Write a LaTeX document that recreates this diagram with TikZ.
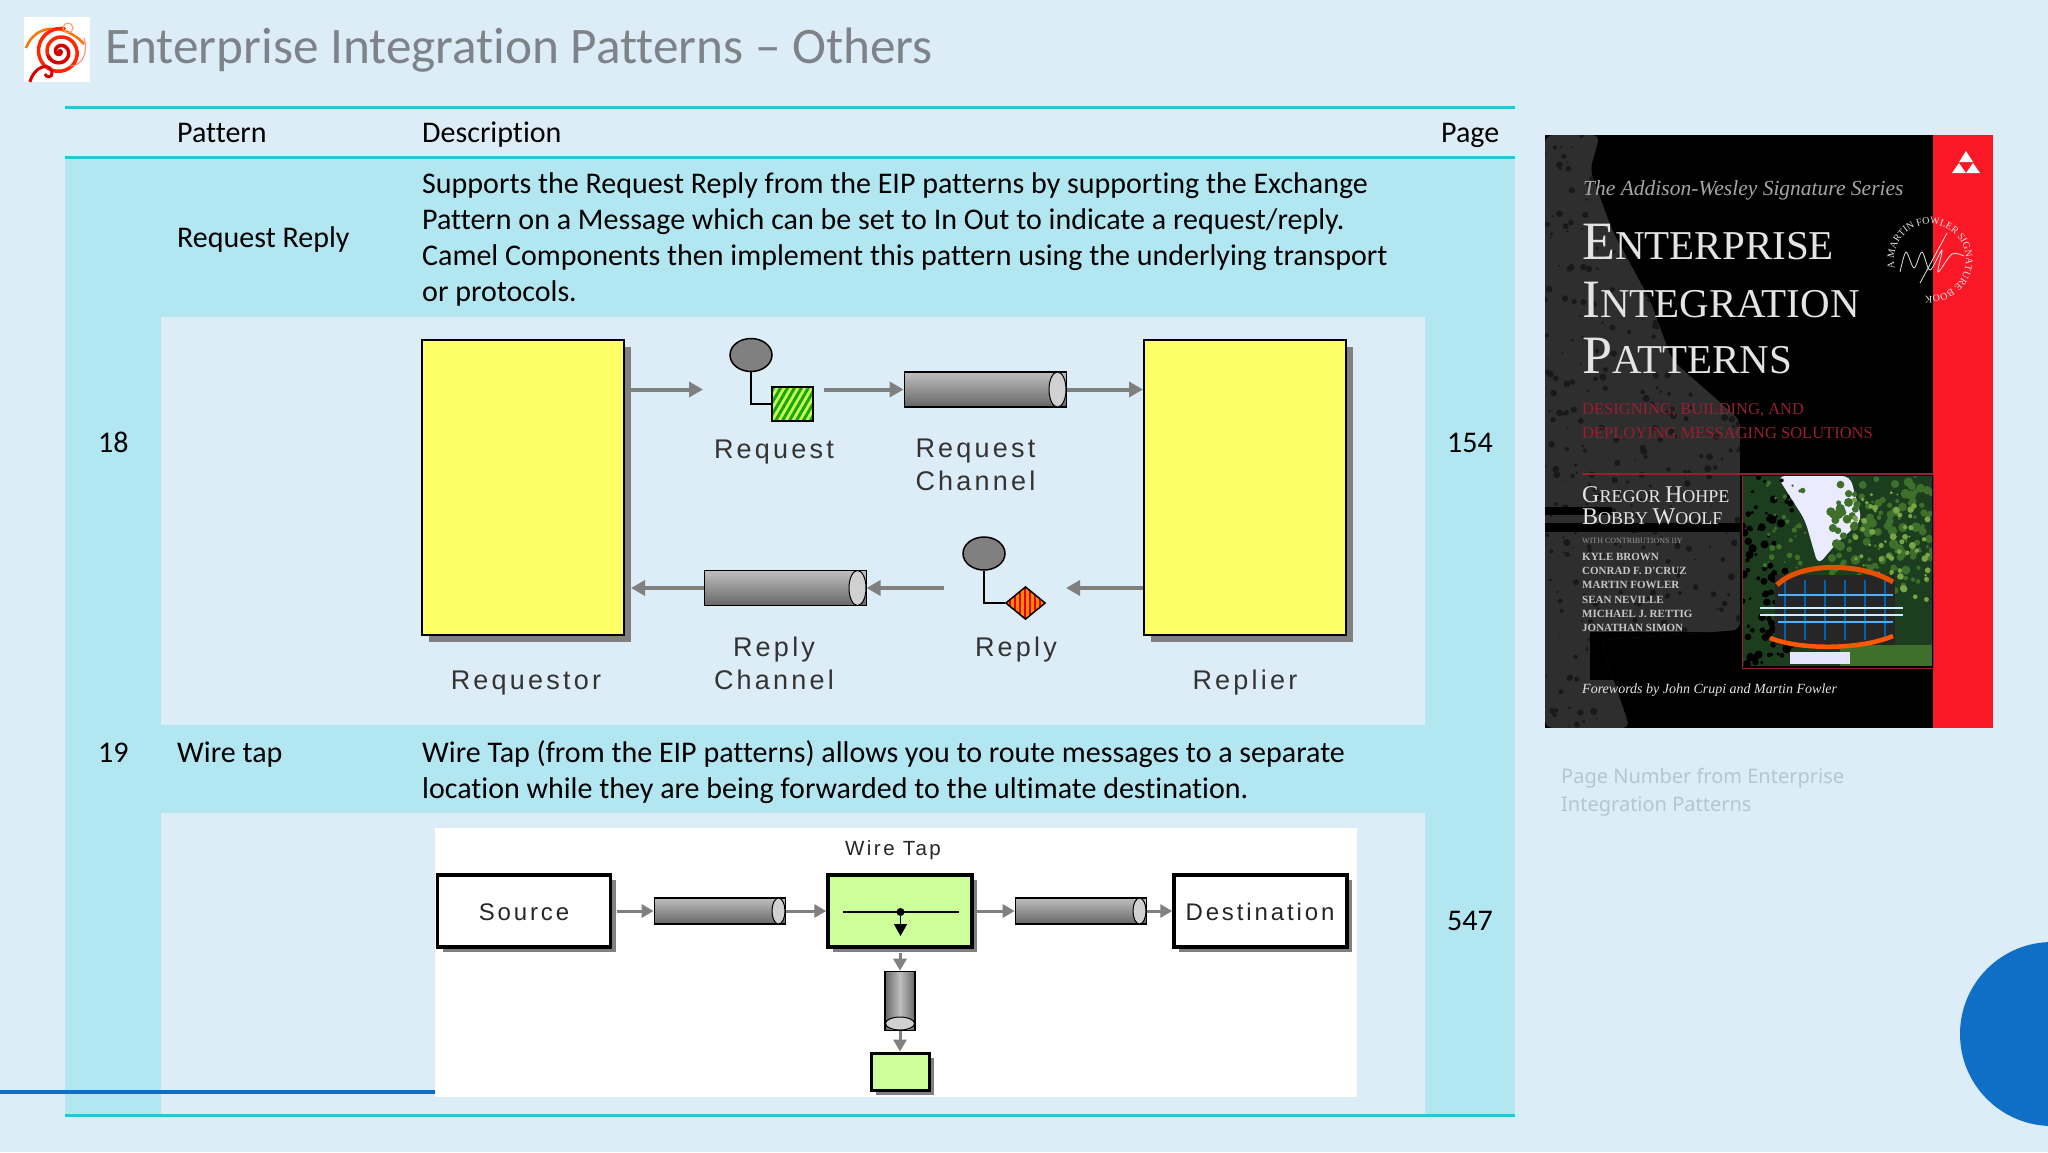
\documentclass[tikz,border=0pt]{standalone}
\usepackage{fontspec}
\setmainfont[Ligatures=NoCommon]{Carlito}
\newfontfamily\figfont[LetterSpace=12]{Liberation Sans}
\newfontfamily\coverfont{Liberation Serif}
\newfontfamily\notefont{Noto Sans}
\usetikzlibrary{shapes, arrows.meta, positioning, shadows, patterns.meta, decorations.text}

\definecolor{pagebg}{RGB}{220,237,247}
\definecolor{rowcyan}{RGB}{178,230,241}
\definecolor{ruleteal}{RGB}{38,200,216}
\definecolor{titlegrey}{RGB}{125,131,137}
\definecolor{notegrey}{RGB}{180,198,212}
\definecolor{boxyellow}{RGB}{255,255,102}
\definecolor{tapgreen}{RGB}{204,255,153}
\definecolor{deckblue}{RGB}{15,110,198}
\definecolor{coverred}{RGB}{250,24,38}
\definecolor{subred}{RGB}{150,32,50}
\definecolor{coverwhite}{RGB}{228,228,228}
\definecolor{covergrey}{RGB}{46,46,46}
\definecolor{leafdark}{RGB}{28,62,30}
\definecolor{leafmid}{RGB}{62,112,44}
\definecolor{leaflight}{RGB}{120,165,70}

\newcommand{\coverhead}[4]{{\fontsize{#1}{#1}\selectfont #3}{\fontsize{#2}{#2}\selectfont #4}}
\newcommand{\sealfont}{\fontsize{10}{10}\selectfont\coverfont\color{coverwhite}}

\tikzstyle{celltext} = [anchor=base west, inner sep=0pt, font=\fontsize{30}{36}\selectfont]
\tikzstyle{blocktext} = [anchor=north west, inner sep=0pt, align=left, font=\fontsize{30}{36}\selectfont]
\tikzstyle{figlabel} = [inner sep=0pt, align=center, text=black!80, font=\figfont\fontsize{27}{33}\selectfont]
\tikzstyle{taplabel} = [anchor=base, inner sep=0pt, text=black!85, font=\figfont\fontsize{24}{24}\selectfont]
\tikzstyle{endpoint} = [rectangle, draw=black, line width=2pt, fill=boxyellow, inner sep=0pt, minimum width=202pt, minimum height=295pt, drop shadow={shadow xshift=7pt, shadow yshift=-7pt, fill=black!50, opacity=1}]
\tikzstyle{tapbox} = [rectangle, draw=black, line width=3.5pt, inner sep=0pt, minimum height=72pt, drop shadow={shadow xshift=5pt, shadow yshift=-5pt, fill=black!50, opacity=1}]
\tikzstyle{msghead} = [ellipse, draw=black, line width=1.5pt, fill=black!50, inner sep=0pt, minimum width=42pt, minimum height=33pt]
\tikzstyle{pipe} = [cylinder, draw=black, line width=1.5pt, aspect=1, inner sep=0pt, top color=black!25, bottom color=black!60]
\tikzstyle{pipecap} = [ellipse, draw=black, line width=1pt, fill=black!18, inner sep=0pt]
\tikzstyle{flow} = [-{Triangle[length=14pt, width=15pt]}, draw=black!50, line width=4pt]
\tikzstyle{tapflow} = [-{Triangle[length=12pt, width=13pt]}, draw=black!50, line width=3pt]
\tikzstyle{covercaps} = [anchor=base west, inner sep=0pt, text=coverwhite, font=\coverfont]
\tikzstyle{coversub} = [anchor=base west, inner sep=0pt, text=subred, font=\coverfont\fontsize{16.5}{16.5}\selectfont]
\tikzstyle{coversmall} = [anchor=base west, inner sep=0pt, text=black!22, font=\coverfont\bfseries\fontsize{11}{11}\selectfont]

\begin{document}
\begin{tikzpicture}[x=1pt, y=-1pt]
  \clip (0,0) rectangle (2048,1152);
  \fill[pagebg] (0,0) rectangle (2048,1152);

  % logo
  \fill[white] (24,17) rectangle (90,82);
  \draw[orange!90!red, line width=2.5pt] (26,48) .. controls (36,22) and (66,24) .. (84,44);
  \draw[red!70!orange, line width=3.5pt, line cap=round] plot[smooth, domain=500:1000, samples=40] ({60+\x/42*cos(\x)}, {52+\x/42*sin(\x)});
  \draw[red!85!black, line width=3.5pt, line cap=round] plot[smooth, domain=60:520, samples=40] ({60+\x/42*cos(\x)}, {52+\x/42*sin(\x)});
  \fill[red!80!black] (60,52) circle (3pt);
  \draw[red!85!black, line width=3pt] (30,82) .. controls (34,66) and (50,62) .. (52,72) .. controls (53,78) and (46,78) .. (45,74);
  \draw[orange!70!red!60, line width=1pt] (68,28) circle (5pt);
  \draw[red!50, line width=1pt] (70,66) .. controls (84,66) and (88,50) .. (84,38);

  % title
  \node[anchor=base west, inner sep=0pt, text=titlegrey, font=\fontsize{51.2}{52}\selectfont] (title) at (105,63.5) {Enterprise Integration Patterns -- Others};

  % table cells
  \fill[rowcyan] (65,157) rectangle (1515,1115);
  \fill[pagebg] (161,317) rectangle (1425,725);
  \fill[pagebg] (161,813) rectangle (1425,1115);
  \draw[ruleteal, line width=3pt] (65,107) -- (1515,107);
  \draw[ruleteal, line width=3pt] (65,157) -- (1515,157);
  \draw[ruleteal, line width=3pt] (65,1115) -- (1515,1115);

  % table text
  \node[celltext] (hpattern) at (177,142) {Pattern};
  \node[celltext] (hdesc) at (422,142) {Description};
  \node[celltext] (hpage) at (1441,142) {Page};
  \node[celltext] (name18) at (177,247) {Request Reply};
  \node[blocktext] (desc18) at (422,172.5) {Supports the Request Reply from the EIP patterns by supporting the Exchange\\Pattern on a Message which can be set to In Out to indicate a request/reply.\\Camel Components then implement this pattern using the underlying transport\\or protocols.};
  \node[celltext] (num18) at (98,452) {18};
  \node[celltext] (page18) at (1447,452) {154};
  \node[celltext] (num19) at (98,762) {19};
  \node[celltext] (name19) at (177,762) {Wire tap};
  \node[blocktext] (desc19) at (422,740) {Wire Tap (from the EIP patterns) allows you to route messages to a separate\\location while they are being forwarded to the ultimate destination.};
  \node[celltext] (page19) at (1447,930) {547};

  % request reply figure
  \node[endpoint] (requestor) at (523,487) {};
  \node[endpoint] (replier) at (1245,487) {};
  \node[figlabel, anchor=base] (requestorlbl) at (526,689) {Requestor};
  \node[figlabel, anchor=base] (replierlbl) at (1245,689) {Replier};

  \node[msghead] (reqhead) at (751,355) {};
  \node[rectangle, draw=black, line width=1.5pt, inner sep=0pt, minimum width=41pt, minimum height=34pt, preaction={fill=green!30!yellow!70}, pattern={Lines[angle=60, distance=6pt, line width=3pt]}, pattern color=green!60!black!90] (reqbody) at (792.5,404) {};
  \draw[line width=1.5pt] (reqhead.south) |- (reqbody.west);
  \node[figlabel, anchor=base] (reqlbl) at (774,458) {Request};

  \node[pipe, minimum height=162pt, minimum width=35pt] (reqchan) at (985,389.5) {};
  \node[pipecap, minimum width=17pt, minimum height=35pt] (reqcap) at (1057.5,389.5) {};
  \node[figlabel, anchor=north] (reqchanlbl) at (975.5,439) {Request\\Channel};

  \node[msghead] (rephead) at (984,553.5) {};
  \node[diamond, draw=black, line width=1.5pt, inner sep=0pt, minimum width=40pt, minimum height=33pt, preaction={fill=orange!90!yellow}, pattern={Lines[angle=90, distance=5pt, line width=2pt]}, pattern color=red!90!black] (repbody) at (1025.5,603) {};
  \draw[line width=1.5pt] (rephead.south) |- (repbody.west);
  \node[figlabel, anchor=base] (replbl) at (1016,656) {Reply};

  \node[pipe, minimum height=162pt, minimum width=35pt] (repchan) at (785,588) {};
  \node[pipecap, minimum width=17pt, minimum height=35pt] (repcap) at (857.5,588) {};
  \node[figlabel, anchor=north] (repchanlbl) at (774,637) {Reply\\Channel};

  \coordinate (msgin) at (703,389.5);
  \coordinate (msgout) at (824,389.5);
  \coordinate (replyin) at (1066,588);
  \coordinate (replyout) at (944,588);
  \draw[flow, shorten <=6pt] (requestor.east |- msgin) -- (msgin);
  \draw[flow] (msgout) -- (reqchan.west);
  \draw[flow] (reqcap.east) -- (replier.west |- reqcap);
  \draw[flow] (replier.west |- replyin) -- (replyin);
  \draw[flow] (replyout) -- (repcap.east);
  \draw[flow, shorten >=6pt] (repchan.west) -- (requestor.east |- repchan);

  % wire tap figure
  \node[rectangle, fill=white, inner sep=0pt, minimum width=922pt, minimum height=269pt] (tapframe) at (896,962.5) {};
  \fill[deckblue] (0,1090) rectangle (435,1094);
  \node[tapbox, fill=white, minimum width=173pt] (source) at (524,911) {};
  \node[taplabel] (sourcelbl) at (524,920) {Source};
  \node[tapbox, fill=tapgreen, minimum width=144pt] (wiretap) at (900,911) {};
  \node[tapbox, fill=white, minimum width=173pt] (destination) at (1260.5,911) {};
  \node[taplabel] (destlbl) at (1260,920) {Destination};
  \node[inner sep=0pt, text=black!85, font=\figfont\fontsize{20.5}{21}\selectfont, anchor=base] (wiretaplbl) at (893,855) {Wire Tap};

  \coordinate (tapleft) at (843,912);
  \coordinate (tapright) at (959,912);
  \coordinate (tapend) at (900.5,936);
  \node[circle, fill=black, inner sep=0pt, minimum size=8pt] (tapdot) at (900.5,912) {};
  \draw[line width=1.5pt] (tapleft) -- (tapright);
  \draw[-{Triangle[length=12pt, width=13pt]}, line width=1.5pt] (tapdot) -- (tapend);

  \node[pipe, minimum height=131pt, minimum width=26pt] (pipea) at (719.5,911) {};
  \node[pipecap, minimum width=13pt, minimum height=26pt] (capa) at (778.5,911) {};
  \node[pipe, minimum height=131pt, minimum width=26pt] (pipeb) at (1080.5,911) {};
  \node[pipecap, minimum width=13pt, minimum height=26pt] (capb) at (1139.5,911) {};
  \node[pipe, shape border rotate=270, minimum width=30pt, minimum height=59pt, left color=black!60, right color=black!60, middle color=black!25] (pipec) at (900,1000.5) {};
  \node[pipecap, minimum width=29pt, minimum height=13pt] (capc) at (900,1023.5) {};
  \node[tapbox, fill=tapgreen, minimum width=58pt, minimum height=37pt, line width=3pt] (tapsink) at (900,1071.5) {};

  \coordinate (sourceout) at (617,911);
  \coordinate (wireout) at (977,911);
  \coordinate (wiredown) at (900,953);
  \draw[tapflow] (sourceout) -- (pipea.west);
  \draw[tapflow] (capa.east) -- (wiretap.west);
  \draw[tapflow] (wireout) -- (pipeb.west);
  \draw[tapflow] (capb.east) -- (destination.west);
  \draw[tapflow] (wiredown) -- (pipec.north);
  \draw[tapflow] (capc.south) -- (tapsink.north);

  % book cover
  \node[rectangle, fill=black, inner sep=0pt, minimum width=448pt, minimum height=593pt] (cover) at (1769,431.5) {};
  \fill[coverred] (1933,135) rectangle (1993,728);
  \begin{scope}
    \clip[rounded corners=8pt] (1545,135) -- (1600,135) -- (1590,170) -- (1612,230) -- (1650,300) -- (1672,360) -- (1740,420) -- (1740,630) -- (1600,640) -- (1630,728) -- (1545,728) -- cycle;
    \fill[covergrey] (1545,135) rectangle (1740,728);
    \pgfmathsetseed{4217}
    \foreach \i in {1,...,420}
      \fill[black!90] (1545+195*rnd, 135+593*rnd) circle (0.8pt+2.8pt*rnd);
    \fill[black] (1545,507) rectangle (1612,515);
    \fill[black] (1545,523) rectangle (1740,532);
    \fill[black] (1590,632) rectangle (1740,680);
  \end{scope}

  \node[anchor=base west, inner sep=0pt, text=black!35, font=\coverfont\itshape\fontsize{21.5}{22}\selectfont] (series) at (1583,195) {The Addison-Wesley Signature Series};
  \node[covercaps] (coverone) at (1582,259) {\coverhead{54}{41}{E}{NTERPRISE}};
  \node[covercaps] (covertwo) at (1582,317) {\coverhead{54}{41}{I}{NTEGRATION}};
  \node[covercaps] (coverthree) at (1582,373) {\coverhead{54}{41}{P}{ATTERNS}};
  \node[coversub] (subone) at (1582,414) {DESIGNING, BUILDING, AND};
  \node[coversub] (subtwo) at (1582,438) {DEPLOYING MESSAGING SOLUTIONS};
  \node[covercaps] (authorone) at (1582,502) {\coverhead{24}{18}{G}{REGOR }\coverhead{24}{18}{H}{OHPE}};
  \node[covercaps] (authortwo) at (1582,524) {\coverhead{24}{18}{B}{OBBY }\coverhead{24}{18}{W}{OOLF}};
  \node[anchor=base west, inner sep=0pt, text=black!40, font=\coverfont\fontsize{8}{8}\selectfont] (withby) at (1582,543) {WITH CONTRIBUTIONS BY};
  \node[coversmall] (namea) at (1582,560) {KYLE BROWN};
  \node[coversmall] (nameb) at (1582,574) {CONRAD F. D'CRUZ};
  \node[coversmall] (namec) at (1582,588) {MARTIN FOWLER};
  \node[coversmall] (named) at (1582,603) {SEAN NEVILLE};
  \node[coversmall] (namee) at (1582,617) {MICHAEL J. RETTIG};
  \node[coversmall] (namef) at (1582,631) {JONATHAN SIMON};
  \node[anchor=base west, inner sep=0pt, text=coverwhite, font=\coverfont\itshape\fontsize{14}{14}\selectfont] (foreword) at (1582,693) {Forewords by John Crupi and Martin Fowler};

  % cover logo and seal
  \fill[white] (1966,151) -- (1973,162) -- (1959,162) -- cycle;
  \fill[white] (1959,163) -- (1966,173) -- (1952,173) -- cycle;
  \fill[white] (1973,163) -- (1980,173) -- (1966,173) -- cycle;
  \coordinate (sealmid) at (1930,260);
  \path[decorate, decoration={text along path, text align=center, text={|\sealfont|A MARTIN FOWLER SIGNATURE BOOK}}] (sealmid) ++(210:36pt) arc[start angle=210, end angle=-115, radius=36pt];
  \draw[coverwhite, line width=0.8pt] plot[smooth] coordinates {(1900,272) (1906,252) (1914,268) (1922,252) (1930,270) (1942,250) (1938,272) (1952,254) (1964,256)};
  \draw[coverwhite, line width=0.8pt] (1947,233) -- (1920,283);

  % cover photo
  \fill[leafdark] (1743,476) rectangle (1932,666);
  \begin{scope}
    \clip (1743,476) rectangle (1932,666);
    \fill[blue!8!white, rounded corners=8pt] (1777,476) -- (1850,476) -- (1862,520) -- (1835,545) -- (1818,565) -- (1805,520) -- cycle;
    \pgfmathsetseed{873}
    \foreach \i in {1,...,140}
      \fill[leafmid] (1830+102*rnd, 476+115*rnd) circle (1.5pt+3.5pt*rnd);
    \foreach \i in {1,...,70}
      \fill[leaflight] (1850+82*rnd, 490+110*rnd) circle (1pt+2.5pt*rnd);
    \foreach \i in {1,...,90}
      \fill[black] (1743+50*rnd, 476+190*rnd) circle (1.5pt+3pt*rnd);
    \foreach \i in {1,...,30}
      \fill[leafmid] (1765+40*rnd, 480+90*rnd) circle (1pt+2pt*rnd);
    \fill[black!85] (1775,575) rectangle (1895,645);
    \fill[leafmid] (1840,645) rectangle (1932,666);
    \foreach \xx in {1785,1805,1825,1845,1865,1885}
      \draw[blue!45!cyan!70!black, line width=2pt] (\xx,580) -- (\xx,640);
    \foreach \yy in {595,622}
      \draw[blue!45!cyan!70, line width=1.5pt] (1778,\yy) -- (1893,\yy);
    \foreach \yy in {608,615}
      \draw[cyan!20!white, line width=2pt] (1760,\yy) -- (1903,\yy);
    \draw[orange!70!red!90!black, line width=5pt] (1777,585) .. controls (1800,562) and (1860,562) .. (1893,582);
    \draw[orange!70!red, line width=4.5pt] (1770,638) .. controls (1800,650) and (1860,650) .. (1893,636);
    \fill[blue!10!white] (1790,652) rectangle (1850,664);
  \end{scope}
  \draw[subred, line width=1.5pt] (1582,474) -- (1933,474);
  \draw[subred, line width=1pt] (1742,474) rectangle (1933,668);

  % note and corner circle
  \node[blocktext, text=notegrey, font=\notefont\fontsize{20}{28}\selectfont] (pagenote) at (1561,768) {Page Number from Enterprise\\Integration Patterns};
  \fill[deckblue] (2052,1034) circle (92pt);
\end{tikzpicture}
\end{document}
